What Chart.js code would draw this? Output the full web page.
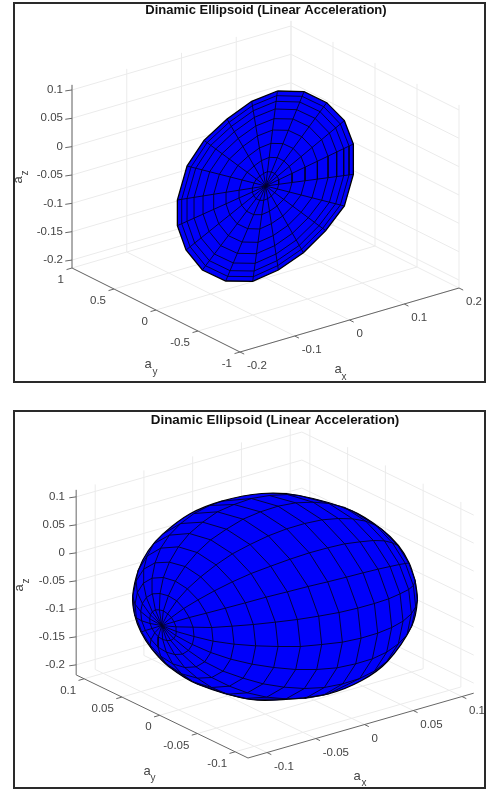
<!DOCTYPE html>
<html>
<head>
<meta charset="utf-8">
<title>Dinamic Ellipsoid</title>
<script src="https://cdn.jsdelivr.net/npm/chart.js@4"></script>
<style>
  html, body { margin: 0; padding: 0; background: #fff; overflow: hidden; }
  .box { position: absolute; left: 13px; width: 473px; box-sizing: border-box; border: 2px solid #2a2a2a; }
  canvas { display: block; filter: blur(0.45px); }
</style>
</head>
<body>
<div class="box" style="top:2px;height:381px"><canvas id="chart-top" width="469" height="377"></canvas></div>
<div class="box" style="top:410px;height:379px"><canvas id="chart-bottom" width="469" height="375"></canvas></div>
<script>
const titleText = 'Dinamic Ellipsoid (Linear Acceleration)';

// top chart ticks
const topAxTicks = [-0.2, -0.1, 0, 0.1, 0.2];
const topAxLabels = ['-0.2', '-0.1', '0', '0.1', '0.2'];
const topAyTicks = [-1, -0.5, 0, 0.5, 1];
const topAyLabels = ['-1', '-0.5', '0', '0.5', '1'];
const topAzTicks = [-0.2, -0.15, -0.1, -0.05, 0, 0.05, 0.1];
const topAzLabels = ['-0.2', '-0.15', '-0.1', '-0.05', '0', '0.05', '0.1'];

// bottom chart ticks
const botAxTicks = [-0.1, -0.05, 0, 0.05, 0.1];
const botAxLabels = ['-0.1', '-0.05', '0', '0.05', '0.1'];
const botAyTicks = [-0.1, -0.05, 0, 0.05, 0.1];
const botAyLabels = ['-0.1', '-0.05', '0', '0.05', '0.1'];
const botAzTicks = [-0.2, -0.15, -0.1, -0.05, 0, 0.05, 0.1];
const botAzLabels = ['-0.2', '-0.15', '-0.1', '-0.05', '0', '0.05', '0.1'];

const topOutline = [[35,285],[115,283],[183,250],[236,196],[263,126],[263,35],[236,-60],[180,-134],[113,-200],[38,-252],
  [-39,-286],[-120,-285],[-190,-252],[-239,-192],[-265,-119],[-265,-42],[-236,60],[-185,137],[-116,201],[-42,254]];
const topRings = [
  [[5,43],[17,42],[27,38],[35,29],[39,19],[39,5],[35,-9],[27,-20],[17,-30],[6,-38],[-6,-43],[-18,-43],[-29,-38],[-36,-29],[-40,-18],[-40,-6],[-35,9],[-28,21],[-17,30],[-6,38]],
  [[11,86],[35,85],[55,75],[71,59],[79,38],[79,11],[71,-18],[54,-40],[34,-60],[11,-76],[-12,-86],[-36,-86],[-57,-76],[-72,-58],[-80,-36],[-80,-13],[-71,18],[-56,41],[-35,60],[-13,76]],
  [[16,128],[52,127],[82,113],[106,88],[118,57],[118,16],[106,-27],[81,-60],[51,-90],[17,-113],[-18,-129],[-54,-128],[-86,-113],[-108,-86],[-119,-54],[-119,-19],[-106,27],[-83,62],[-52,90],[-19,114]],
  [[21,168],[68,167],[108,148],[139,116],[155,74],[155,21],[139,-35],[106,-79],[67,-118],[22,-149],[-23,-169],[-71,-168],[-112,-149],[-141,-113],[-156,-70],[-156,-25],[-139,35],[-109,81],[-68,119],[-25,150]],
  [[25,202],[82,201],[130,178],[168,139],[187,89],[187,25],[168,-43],[128,-95],[80,-142],[27,-179],[-28,-203],[-85,-202],[-135,-179],[-170,-136],[-188,-84],[-188,-30],[-168,43],[-131,97],[-82,143],[-30,180]],
  [[28,231],[93,229],[148,203],[191,159],[213,102],[213,28],[191,-49],[146,-109],[92,-162],[31,-204],[-32,-232],[-97,-231],[-154,-204],[-194,-156],[-215,-96],[-215,-34],[-191,49],[-150,111],[-94,163],[-34,206]],
  [[31,254],[102,252],[163,223],[210,174],[234,112],[234,31],[210,-53],[160,-119],[101,-178],[34,-224],[-35,-255],[-107,-254],[-169,-224],[-213,-171],[-236,-106],[-236,-37],[-210,53],[-165,122],[-103,179],[-37,226]],
  [[33,271],[109,269],[174,238],[224,186],[250,120],[250,33],[224,-57],[171,-127],[107,-190],[36,-239],[-37,-272],[-114,-271],[-181,-239],[-227,-182],[-252,-113],[-252,-40],[-224,57],[-176,130],[-110,191],[-40,241]]
];

// bottom ellipsoid, same kind of units
const botOutline = [[760,136],[742,188],[710,240],[660,289],[571,344],[412,390],[300,396],[180,373],[85,335],[3,274],[-40,225],[-70,166],[-87,88],[-81,31],[-62,-20],[-30,-70],[20,-122],[108,-176],[268,-222],[380,-221],[500,-205],[600,-165],[677,-108],[750,-2],[767,75]];
// one row per meridian, going round the pole; the n-th node of every row lies on the n-th ring
const botMeridians = [
  [[43,-4],[94,-5],[150,-6],[211,-2],[275,3],[341,10],[407,18],[471,28],[532,39],[588,52],[638,66],[681,80],[715,95],[741,108],[755,120],[761,133]],
  [[37,11],[83,24],[134,37],[191,52],[251,68],[313,85],[377,101],[439,117],[498,131],[554,145],[604,158],[649,169],[685,177],[713,183],[731,186],[741,188]],
  [[29,24],[66,51],[109,77],[158,104],[212,131],[268,156],[327,178],[385,199],[443,218],[498,233],[549,245],[595,251],[635,255],[668,254],[692,248],[708,240]],
  [[18,35],[45,74],[77,110],[117,146],[163,182],[212,215],[265,243],[320,269],[375,290],[429,306],[481,317],[530,321],[573,320],[612,313],[643,300],[660,289]],
  [[5,44],[20,89],[41,133],[70,177],[106,219],[147,257],[194,289],[244,319],[296,341],[349,358],[402,368],[454,370],[502,366],[547,355],[571,344]],
  [[-7,47],[-5,96],[5,144],[23,190],[50,236],[83,276],[123,310],[167,341],[217,363],[269,381],[323,390],[377,393],[412,390]],
  [[-19,47],[-28,95],[-29,142],[-20,188],[-3,232],[23,271],[57,306],[97,336],[144,360],[180,373]],
  [[-28,41],[-46,84],[-55,127],[-54,169],[-44,208],[-24,245],[3,274]],
  [[-34,32],[-58,66],[-73,99],[-77,133],[-71,166]],
  [[-36,20],[-63,42],[-80,64],[-87,88]],
  [[-35,6],[-60,14],[-76,23],[-81,31]],
  [[-29,-9],[-49,-15],[-60,-19]],
  [[-21,-22],[-32,-42],[-35,-59],[-30,-70]],
  [[-10,-34],[-11,-65],[-3,-92],[13,-114],[20,-122]],
  [[3,-42],[14,-80],[33,-115],[60,-145],[94,-169],[108,-176]],
  [[15,-45],[39,-87],[69,-126],[107,-158],[150,-186],[197,-206],[249,-219],[268,-222]],
  [[27,-45],[62,-86],[103,-124],[150,-156],[203,-182],[257,-202],[315,-215],[373,-220],[430,-219],[485,-209],[500,-205]],
  [[36,-39],[80,-75],[129,-109],[184,-137],[244,-158],[304,-175],[367,-185],[428,-189],[488,-186],[543,-175],[594,-159],[638,-137],[675,-108]],
  [[42,-30],[92,-57],[147,-81],[207,-101],[271,-116],[336,-126],[402,-132],[465,-132],[526,-127],[582,-115],[632,-100],[675,-80],[710,-55],[736,-28],[750,-2]],
  [[44,-18],[97,-33],[154,-47],[217,-56],[282,-61],[349,-63],[416,-63],[480,-57],[542,-50],[598,-38],[648,-23],[690,-6],[724,13],[749,35],[762,56],[767,75]]
];

const topView = {
  left: 15, top: 4, width: 469, height: 377,
  pole: [265.7, 186], corner: [240, 352],
  perAx: [547.5, -160], perAy: [-84, -42], perAz: -567,
  ax: [-0.2, 0.2], ay: [-1, 1], az: [-0.214, 0.109],
  axTicks: topAxTicks, axLabels: topAxLabels,
  ayTicks: topAyTicks, ayLabels: topAyLabels,
  azTicks: topAzTicks, azLabels: topAzLabels,
  titlePos: [266, 10.5], titleSize: 13,
  azLabelRight: 63, aySub: [[148, 364], [155, 372]], axSub: [[338, 369], [344, 377]], azSub: [[18.5, 180], [25, 173]]
};
const botView = {
  left: 15, top: 412, width: 469, height: 375,
  pole: [161.7, 625.5], corner: [248, 758],
  perAx: [975, -280], perAy: [-755, -365], perAz: -560,
  ax: [-0.1195, 0.112], ay: [-0.117, 0.1106], az: [-0.218, 0.1125],
  axTicks: botAxTicks, axLabels: botAxLabels,
  ayTicks: botAyTicks, ayLabels: botAyLabels,
  azTicks: botAzTicks, azLabels: botAzLabels,
  titlePos: [275, 420.5], titleSize: 13.4,
  azLabelRight: 65, aySub: [[147, 771], [153, 778]], axSub: [[357, 776], [364, 783]], azSub: [[19, 588], [26, 581]]
};

// reference pixel of an (ax, ay, az) point
function toPx(view, ax, ay, az) {
  const dx = ax - view.ax[0], dy = ay - view.ay[0], dz = az - view.az[0];
  return [view.corner[0] + dx * view.perAx[0] + dy * view.perAy[0],
          view.corner[1] + dx * view.perAx[1] + dy * view.perAy[1] + dz * view.perAz];
}

function project(view, ax, ay, az) {
  const p = toPx(view, ax, ay, az);
  return { x: (p[0] - view.pole[0]) * 3, y: (view.pole[1] - p[1]) * 3 };
}

function toPoints(list) {
  return list.map(p => ({ x: p[0], y: p[1] }));
}

function lineSet(data, color, width, extra) {
  return Object.assign({
    type: 'scatter', data: data, showLine: true, borderColor: color, borderWidth: width,
    pointRadius: 0, fill: false, tension: 0
  }, extra || {});
}

function segments(view, list) {
  const out = [];
  list.forEach(s => {
    out.push(project(view, s[0], s[1], s[2]));
    out.push(project(view, s[3], s[4], s[5]));
    out.push({ x: null, y: null });
  });
  return out;
}

function gridSegments(view) {
  const [x0, x1] = view.ax, [y0, y1] = view.ay, [z0, z1] = view.az;
  const s = [];
  view.azTicks.forEach(z => { s.push([x0, y1, z, x1, y1, z]); s.push([x1, y0, z, x1, y1, z]); });
  view.axTicks.forEach(x => { s.push([x, y1, z0, x, y1, z1]); s.push([x, y0, z0, x, y1, z0]); });
  view.ayTicks.forEach(y => { s.push([x1, y, z0, x1, y, z1]); s.push([x0, y, z0, x1, y, z0]); });
  return segments(view, s);
}

function axisSegments(view) {
  const [x0, x1] = view.ax, [y0, y1] = view.ay, [z0, z1] = view.az;
  const tx = (y1 - y0) * 0.025, ty = (x1 - x0) * 0.025;
  const s = [[x0, y0, z0, x1, y0, z0], [x0, y0, z0, x0, y1, z0], [x0, y1, z0, x0, y1, z1]];
  view.axTicks.forEach(x => s.push([x, y0, z0, x, y0 - tx, z0]));
  view.ayTicks.forEach(y => s.push([x0, y, z0, x0 - ty, y, z0]));
  view.azTicks.forEach(z => s.push([x0, y1, z, x0 - ty, y1 + tx * 0.3, z]));
  return segments(view, s);
}

function labelList(view) {
  const out = [];
  const [x0] = view.ax, [y0, y1] = view.ay, [z0] = view.az;
  view.azTicks.forEach((z, i) => {
    const p = toPx(view, x0, y1, z);
    out.push({ text: view.azLabels[i], px: view.azLabelRight, py: p[1], align: 'right', size: 11.5 });
  });
  view.ayTicks.forEach((y, i) => {
    const p = toPx(view, x0, y, z0);
    out.push({ text: view.ayLabels[i], px: p[0] - 8, py: p[1] + 12, align: 'right', size: 11.5 });
  });
  view.axTicks.forEach((x, i) => {
    const p = toPx(view, x, y0, z0);
    out.push({ text: view.axLabels[i], px: p[0] + 7, py: p[1] + 14, align: 'left', size: 11.5 });
  });
  out.push({ text: 'a', px: view.aySub[0][0], py: view.aySub[0][1], align: 'center', size: 13 });
  out.push({ text: 'y', px: view.aySub[1][0], py: view.aySub[1][1], align: 'center', size: 10 });
  out.push({ text: 'a', px: view.axSub[0][0], py: view.axSub[0][1], align: 'center', size: 13 });
  out.push({ text: 'x', px: view.axSub[1][0], py: view.axSub[1][1], align: 'center', size: 10 });
  out.push({ text: 'a', px: view.azSub[0][0], py: view.azSub[0][1], align: 'center', size: 13, rotate: true });
  out.push({ text: 'z', px: view.azSub[1][0], py: view.azSub[1][1], align: 'center', size: 10, rotate: true });
  out.push({ text: titleText, px: view.titlePos[0], py: view.titlePos[1], align: 'center', size: view.titleSize, bold: true, color: '#111' });
  return out;
}

const axisTextPlugin = {
  id: 'axisText',
  afterDraw(chart, args, opts) {
    const ctx = chart.ctx, view = opts.view;
    ctx.save();
    ctx.textBaseline = 'middle';
    opts.labels.forEach(l => {
      const x = chart.scales.x.getPixelForValue((l.px - view.pole[0]) * 3);
      const y = chart.scales.y.getPixelForValue((view.pole[1] - l.py) * 3);
      ctx.font = (l.bold ? 'bold ' : '') + l.size + 'px "Liberation Sans", Arial, sans-serif';
      ctx.fillStyle = l.color || '#444';
      ctx.textAlign = l.align;
      if (l.rotate) {
        ctx.save();
        ctx.translate(x, y);
        ctx.rotate(-Math.PI / 2);
        ctx.fillText(l.text, 0, 0);
        ctx.restore();
      } else {
        ctx.fillText(l.text, x, y);
      }
    });
    ctx.restore();
  }
};

function buildChart(id, view, meshSets) {
  const back = [
    lineSet(gridSegments(view), '#ebebeb', 1),
    lineSet(axisSegments(view), '#666666', 1)
  ];
  // chart.js paints the last dataset first
  const datasets = back.concat(meshSets).reverse();
  new Chart(document.getElementById(id), {
    type: 'scatter',
    data: { datasets: datasets },
    plugins: [axisTextPlugin],
    options: {
      responsive: false,
      animation: false,
      layout: { padding: 0 },
      plugins: {
        legend: { display: false },
        tooltip: { enabled: false },
        axisText: { view: view, labels: labelList(view) }
      },
      scales: {
        x: { type: 'linear', display: false,
             min: (view.left - view.pole[0]) * 3, max: (view.left + view.width - view.pole[0]) * 3 },
        y: { type: 'linear', display: false,
             min: (view.pole[1] - view.top - view.height) * 3, max: (view.pole[1] - view.top) * 3 }
      }
    }
  });
}

function topMesh() {
  const sets = [lineSet(toPoints(topOutline.concat([topOutline[0]])), '#000', 1.3, { fill: 'shape', backgroundColor: '#0000fa' })];
  topOutline.forEach(e => sets.push(lineSet(toPoints([[0, 0], e]), '#00002a', 0.9)));
  topRings.forEach(r => sets.push(lineSet(toPoints(r.concat([r[0]])), '#00002a', 0.9)));
  return sets;
}

function botMesh() {
  const sets = [lineSet(toPoints(botOutline.concat([botOutline[0]])), '#000', 1.2, { fill: 'shape', backgroundColor: '#0000fa', tension: 0.35 })];
  botMeridians.forEach(m => sets.push(lineSet(toPoints([[0, 0]].concat(m)), '#00002a', 0.9)));
  const n = botMeridians.length;
  for (let k = 0; k < 16; k++) {
    // start each ring just after a meridian that does not reach it, so the run is not cut in two
    let start = 0;
    for (let j = 0; j < n; j++) {
      if (!botMeridians[j][k]) start = j + 1;
    }
    let run = [];
    for (let i = 0; i < n; i++) {
      const node = botMeridians[(start + i) % n][k];
      if (node) {
        run.push(node);
      } else {
        if (run.length > 1) sets.push(lineSet(toPoints(run), '#00002a', 0.9));
        run = [];
      }
    }
    if (run.length === n) run.push(run[0]);
    if (run.length > 1) sets.push(lineSet(toPoints(run), '#00002a', 0.9));
  }
  return sets;
}

buildChart('chart-top', topView, topMesh());
buildChart('chart-bottom', botView, botMesh());
</script>
</body>
</html>
